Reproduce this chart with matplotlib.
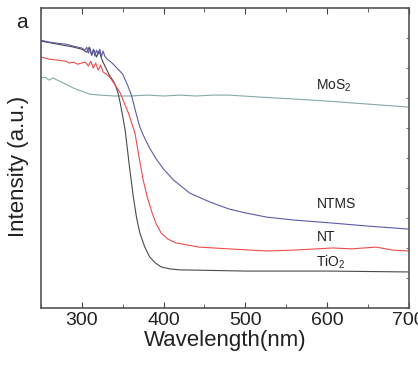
import numpy as np
import matplotlib
matplotlib.use("Agg")
import matplotlib.pyplot as plt
from matplotlib.ticker import MultipleLocator

plt.rcParams['font.family'] = ['Liberation Sans', 'DejaVu Sans']
plt.rcParams['mathtext.fontset'] = 'custom'
plt.rcParams['mathtext.rm'] = 'Liberation Sans'

# wavelength (nm) and intensity (a.u., 0-100 scale)
ntms_wl = [250, 260, 270, 280, 285, 290, 295, 300, 304, 306, 308, 310, 312, 314, 316, 318, 320, 322, 324, 326, 328,
           331, 337, 343, 350, 356, 361, 366, 371, 375, 383, 391, 400, 412, 432, 457, 480, 500, 526, 560, 607, 650, 700]
ntms_int = [89.3, 88.7, 88.3, 88.0, 87.7, 87.3, 87.0, 86.7, 86.0, 87.0, 85.0, 86.7, 84.3, 86.3, 84.0, 86.0, 84.7,
            86.3, 83.7, 85.7, 84.0, 83.0, 81.7, 80.0, 78.0, 74.3, 70.7, 65.3, 60.3, 57.7, 53.3, 49.7, 46.3, 42.7,
            38.3, 35.3, 33.0, 31.7, 30.3, 29.3, 28.3, 27.3, 26.3]

nt_wl = [250, 260, 270, 280, 285, 290, 295, 300, 304, 308, 311, 314, 317, 320, 323, 326, 330, 334, 340, 347, 352,
         357, 361, 365, 370, 375, 380, 386, 391, 397, 405, 415, 443, 480, 526, 560, 607, 630, 660, 680, 700]
nt_int = [83.7, 83.0, 82.7, 82.3, 81.7, 82.0, 81.3, 81.7, 82.0, 80.7, 82.3, 80.0, 81.7, 79.3, 81.0, 78.7, 78.0,
          77.0, 74.7, 71.7, 68.3, 65.0, 61.7, 58.3, 50.3, 42.7, 37.0, 31.7, 28.0, 25.0, 23.0, 21.7, 20.3, 19.7,
          19.0, 19.3, 20.0, 19.7, 20.3, 19.3, 19.0]

tio2_wl = [250, 270, 290, 300, 306, 309, 312, 315, 318, 321, 324, 326, 333, 340, 344, 347, 350, 353, 358, 363,
           367, 371, 377, 383, 390, 397, 408, 420, 500, 600, 700]
tio2_int = [89.0, 88.0, 87.0, 86.3, 85.3, 87.0, 84.3, 86.0, 83.7, 85.7, 83.3, 82.0, 78.0, 75.0, 72.0, 68.3, 64.0,
            59.3, 47.7, 37.0, 30.0, 25.0, 20.3, 17.0, 15.0, 13.7, 13.0, 12.7, 12.3, 12.3, 12.0]

mos2_wl = [250, 255, 260, 265, 270, 280, 290, 300, 310, 322, 340, 360, 380, 400, 420, 440, 460, 480, 520, 560,
           600, 650, 700]
mos2_int = [76.7, 77.0, 76.0, 76.7, 76.0, 74.7, 73.3, 72.3, 71.3, 71.0, 70.7, 70.7, 71.0, 70.7, 71.0, 70.7, 71.0,
            71.0, 70.3, 69.7, 69.0, 68.0, 67.0]

labels = ["MoS$_2$", "NTMS", "NT", "TiO$_2$"]
label_y = [72.9, 33.3, 22.3, 13.8]

fig = plt.figure(figsize=(4.18, 3.71), dpi=100)
ax = fig.add_axes([0.098, 0.170, 0.880, 0.808])

ax.plot(mos2_wl, mos2_int, color='#86a9a9', lw=0.8)
ax.plot(tio2_wl, tio2_int, color='#4a4a4a', lw=0.8)
ax.plot(nt_wl, nt_int, color='#ee4a4a', lw=0.8)
ax.plot(ntms_wl, ntms_int, color='#5b5bab', lw=0.8)

for lab, yy in zip(labels, label_y):
    ax.text(587, yy, lab, fontsize=10, color='#222222', ha='left', va='baseline')

ax.set_xlim(250, 700)
ax.set_ylim(0, 100)
ax.xaxis.set_major_locator(MultipleLocator(100))
ax.xaxis.set_minor_locator(MultipleLocator(50))
ax.yaxis.set_major_locator(MultipleLocator(10))
ax.set_yticklabels([])
ax.tick_params(axis='x', which='both', direction='in', top=True, labelsize=14, pad=3, colors='#444444',
               labelcolor='#222222')
ax.tick_params(axis='x', which='major', length=4)
ax.tick_params(axis='x', which='minor', length=3)
ax.tick_params(axis='y', which='both', left=False, right=True, direction='in', length=2, colors='#777777')
for sp in ax.spines.values():
    sp.set_color('#555555')
    sp.set_linewidth(1.2)

ax.set_xlabel('Wavelength(nm)', fontsize=16, color='#222222', labelpad=1)
ax.set_ylabel('Intensity (a.u.)', fontsize=16, color='#222222')
ax.yaxis.set_label_coords(-0.032, 0.473)
fig.text(0.053, 0.94, 'a', fontsize=15, ha='center', va='center', color='#222222')

fig.savefig('out.png', dpi=100)
